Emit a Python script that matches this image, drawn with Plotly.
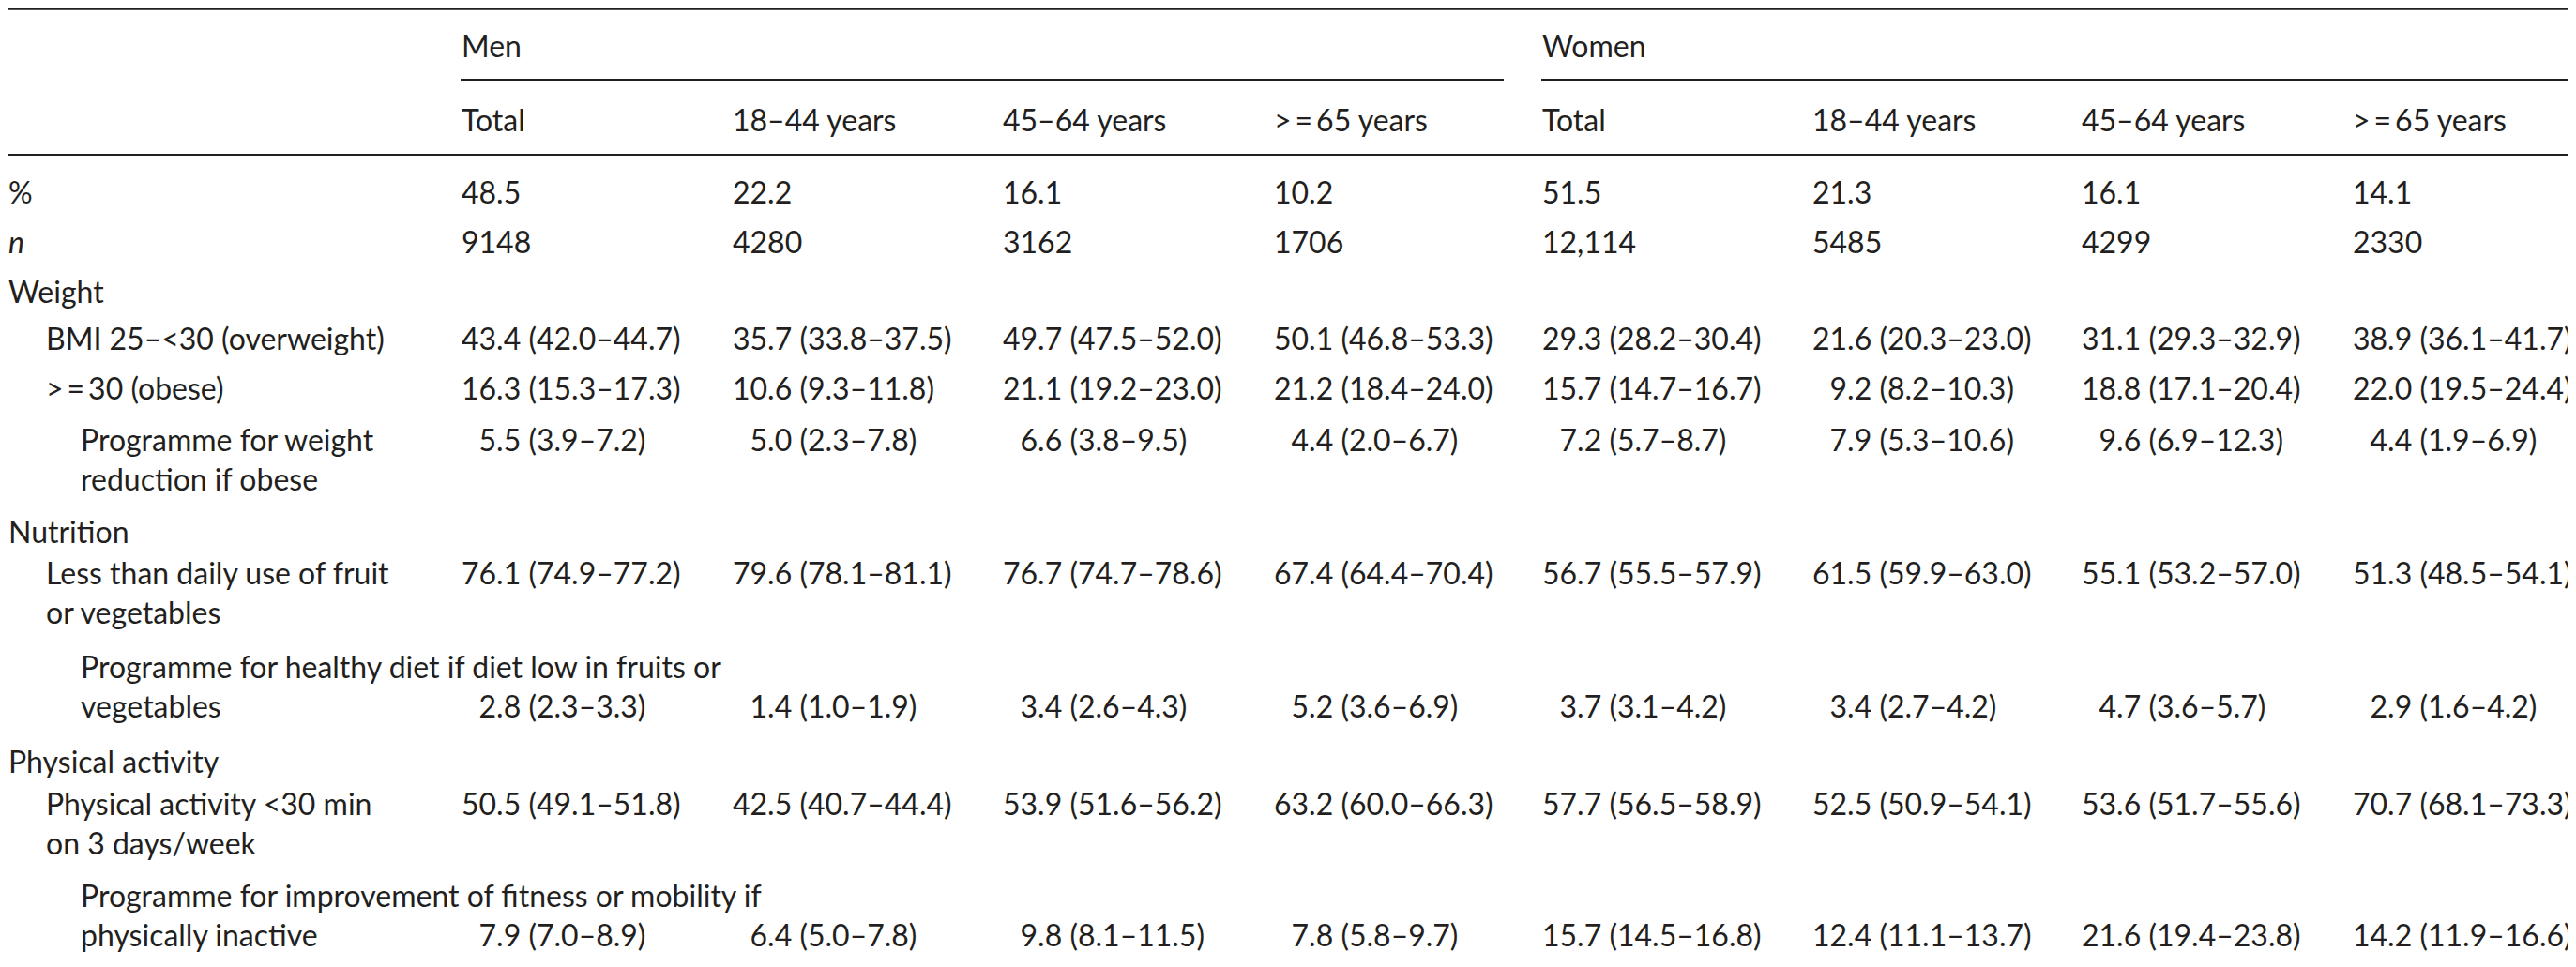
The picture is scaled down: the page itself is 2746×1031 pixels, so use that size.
import plotly.graph_objects as go

# column headers
groups = ["Men", "Women"]
age_groups = ["Total", "18–44 years", "45–64 years", "&gt;\u2009=\u200965 years"]

# row labels (\n = wrapped line)
row_labels = [
    "%",
    "<i>n</i>",
    "Weight",
    "BMI 25–&lt;30 (overweight)",
    "&gt;\u2009=\u200930 (obese)",
    "Programme for weight\nreduction if obese",
    "Nutrition",
    "Less than daily use of fruit\nor vegetables",
    "Programme for healthy diet if diet low in fruits or\nvegetables",
    "Physical activity",
    "Physical activity &lt;30 min\non 3 days/week",
    "Programme for improvement of fitness or mobility if\nphysically inactive",
]

# values: men total, 18-44, 45-64, >=65, women total, 18-44, 45-64, >=65
pct = ["48.5", "22.2", "16.1", "10.2", "51.5", "21.3", "16.1", "14.1"]
n_obs = ["9148", "4280", "3162", "1706", "12,114", "5485", "4299", "2330"]
overweight = ["43.4 (42.0–44.7)", "35.7 (33.8–37.5)", "49.7 (47.5–52.0)", "50.1 (46.8–53.3)",
              "29.3 (28.2–30.4)", "21.6 (20.3–23.0)", "31.1 (29.3–32.9)", "38.9 (36.1–41.7)"]
obese = ["16.3 (15.3–17.3)", "10.6 (9.3–11.8)", "21.1 (19.2–23.0)", "21.2 (18.4–24.0)",
         "15.7 (14.7–16.7)", "9.2 (8.2–10.3)", "18.8 (17.1–20.4)", "22.0 (19.5–24.4)"]
weight_prog = ["5.5 (3.9–7.2)", "5.0 (2.3–7.8)", "6.6 (3.8–9.5)", "4.4 (2.0–6.7)",
               "7.2 (5.7–8.7)", "7.9 (5.3–10.6)", "9.6 (6.9–12.3)", "4.4 (1.9–6.9)"]
low_fruit = ["76.1 (74.9–77.2)", "79.6 (78.1–81.1)", "76.7 (74.7–78.6)", "67.4 (64.4–70.4)",
             "56.7 (55.5–57.9)", "61.5 (59.9–63.0)", "55.1 (53.2–57.0)", "51.3 (48.5–54.1)"]
diet_prog = ["2.8 (2.3–3.3)", "1.4 (1.0–1.9)", "3.4 (2.6–4.3)", "5.2 (3.6–6.9)",
             "3.7 (3.1–4.2)", "3.4 (2.7–4.2)", "4.7 (3.6–5.7)", "2.9 (1.6–4.2)"]
inactive = ["50.5 (49.1–51.8)", "42.5 (40.7–44.4)", "53.9 (51.6–56.2)", "63.2 (60.0–66.3)",
            "57.7 (56.5–58.9)", "52.5 (50.9–54.1)", "53.6 (51.7–55.6)", "70.7 (68.1–73.3)"]
fitness_prog = ["7.9 (7.0–8.9)", "6.4 (5.0–7.8)", "9.8 (8.1–11.5)", "7.8 (5.8–9.7)",
                "15.7 (14.5–16.8)", "12.4 (11.1–13.7)", "21.6 (19.4–23.8)", "14.2 (11.9–16.6)"]

row_values = [pct, n_obs, None, overweight, obese, weight_prog, None,
              low_fruit, diet_prog, None, inactive, fitness_prog]

# layout (pixels)
W, H = 2746, 1031
col_x = [483, 772, 1060, 1349, 1635, 1923, 2210, 2499]
indent_x = [0, 40, 77]
row_indent = [0, 0, 0, 1, 1, 2, 0, 1, 2, 0, 1, 2]
row_y = [196, 249, 302, 352, 405, 460, 558, 602, 702, 803, 848, 946]
value_line = [0, 0, 0, 0, 0, 0, 0, 0, 1, 0, 0, 1]
line_gap = 42
ink = "#231f20"
font = dict(family="Lato", size=32, color=ink)

fig = go.Figure()
ann = []


def put(x, y, text):
    ann.append(dict(x=x, y=y, xref="x", yref="y", text=text, showarrow=False,
                    xanchor="left", yanchor="middle", font=font, borderpad=0))


# group headers and their rules
put(col_x[0], 40, groups[0])
put(col_x[4], 40, groups[1])
shapes = [
    dict(type="line", x0=0, x1=W, y0=1.5, y1=1.5, line=dict(color=ink, width=2.5)),
    dict(type="line", x0=col_x[0], x1=1595, y0=77, y1=77, line=dict(color=ink, width=1.8)),
    dict(type="line", x0=col_x[4], x1=W, y0=77, y1=77, line=dict(color=ink, width=1.8)),
    dict(type="line", x0=0, x1=W, y0=157, y1=157, line=dict(color=ink, width=2)),
    dict(type="line", x0=0, x1=W, y0=1028, y1=1028, line=dict(color=ink, width=2.5)),
]
for i, a in enumerate(age_groups * 2):
    put(col_x[i], 119, a)

for r, label in enumerate(row_labels):
    for k, line in enumerate(label.split("\n")):
        put(indent_x[row_indent[r]], row_y[r] + k * line_gap, line)
    vals = row_values[r]
    if vals is None:
        continue
    vy = row_y[r] + value_line[r] * line_gap
    for c, v in enumerate(vals):
        first = v.split(" ")[0]
        if "(" in v and float(first) < 10:
            v = "\u2007" + v
        put(col_x[c], vy, v)

fig.update_layout(
    width=W, height=H,
    margin=dict(l=0, r=0, t=0, b=0),
    paper_bgcolor="white", plot_bgcolor="white",
    xaxis=dict(range=[0, W], visible=False, fixedrange=True),
    yaxis=dict(range=[H, 0], visible=False, fixedrange=True),
    annotations=ann, shapes=shapes, showlegend=False,
)
fig.write_html("out.html")
